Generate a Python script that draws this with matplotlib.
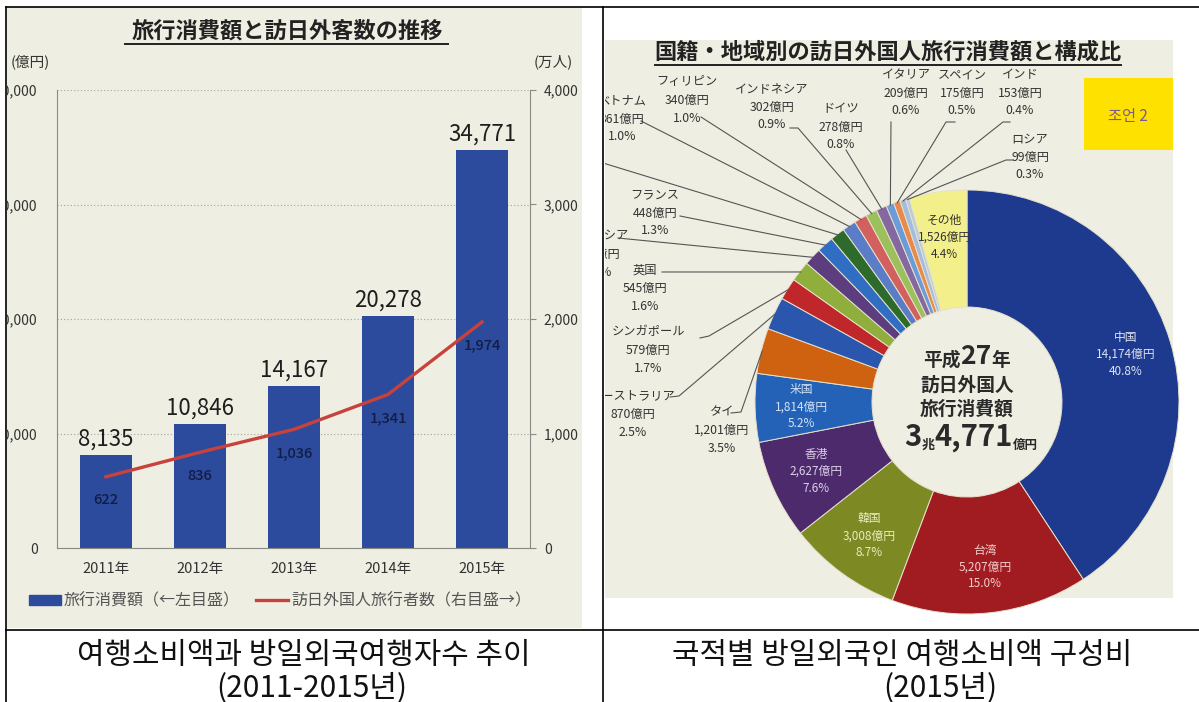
import matplotlib
matplotlib.use("Agg")
import matplotlib.pyplot as plt
from matplotlib.patches import Rectangle, Patch
from matplotlib.lines import Line2D
import numpy as np

plt.rcParams['font.family'] = ['Noto Sans CJK JP', 'DejaVu Sans']

W, H = 1199, 702

# === 左: 旅行消費額と訪日外客数の推移 ===
years = ['2011年', '2012年', '2013年', '2014年', '2015年']
spend = [8135, 10846, 14167, 20278, 34771]      # 億円
visitors = [622, 836, 1036, 1341, 1974]         # 万人
left_ticks = [0, 10000, 20000, 30000, 40000]
right_ticks = [0, 1000, 2000, 3000, 4000]

# === 右: 国籍・地域別の訪日外国人旅行消費額 (2015) ===
countries = ['中国', '台湾', '韓国', '香港', '米国', 'タイ', 'オーストラリア',
             'シンガポール', '英国', 'マレーシア', 'フランス', 'カナダ', 'ベトナム',
             'フィリピン', 'インドネシア', 'ドイツ', 'イタリア', 'スペイン', 'インド',
             'ロシア', 'その他']
amounts = [14174, 5207, 3008, 2627, 1814, 1201, 870, 579, 545, 466, 448, 389,
           361, 340, 302, 278, 209, 175, 153, 99, 1526]
shares = [40.8, 15.0, 8.7, 7.6, 5.2, 3.5, 2.5, 1.7, 1.6, 1.3, 1.3, 1.1, 1.0,
          1.0, 0.9, 0.8, 0.6, 0.5, 0.4, 0.3, 4.4]

BAR = '#2c4b9c'
LINE = '#c8423c'
SCAN = '#efeee2'
pie_colors = ['#1d3a8e', '#a01c20', '#7d8a24', '#4d2a6b', '#2462b8', '#cf6210',
              '#2a56ad', '#c0272b', '#8fae3c', '#5c3d7e', '#2f6ec2', '#2e6a2c',
              '#5b7dc7', '#d2605e', '#9bc05c', '#85689f', '#6b9bd9', '#e98a4c',
              '#a2bede', '#bccbdb', '#f3f08c']


def box(l, t, r, b):
    return [l / W, 1 - b / H, (r - l) / W, (b - t) / H]


def fpt(x, y):
    return x / W, 1 - y / H


fig = plt.figure(figsize=(W / 100, H / 100), dpi=100)
fig.patch.set_facecolor('white')

# scanned backgrounds
left_bg = Rectangle(fpt(7, 628), 575 / W, 621 / H, transform=fig.transFigure,
                    facecolor=SCAN, edgecolor='none', zorder=-1)
fig.add_artist(left_bg)
clip_left = Rectangle(fpt(7, 628), 575 / W, 621 / H, transform=fig.transFigure)

# === Gráfica 1: barras + línea ===
ax1 = fig.add_axes(box(57, 90, 530, 548))
ax1.patch.set_alpha(0)
x = np.arange(len(years))
bars = ax1.bar(x, spend, width=0.56, color=BAR, zorder=2)
ax1.set_xlim(-0.52, 4.51)
ax1.set_ylim(0, 40000)
ax1.set_yticks(left_ticks)
ax1.set_yticklabels([f'{v:,}' for v in left_ticks])
ax1.set_xticks(x)
ax1.set_xticklabels(years)
ax1.grid(axis='y', linestyle=(0, (1, 2)), color='#a5a59c', linewidth=0.8)
ax1.set_axisbelow(True)
for s in ['top', 'right']:
    ax1.spines[s].set_visible(False)
for s in ['left', 'bottom']:
    ax1.spines[s].set_color('#8a8a85')
ax1.tick_params(axis='y', length=0, pad=14, labelsize=10, labelcolor='#333333')
ax1.tick_params(axis='x', length=0, pad=10, labelsize=10.5, labelcolor='#333333')
for lab in ax1.get_yticklabels():
    lab.set_clip_path(clip_left)

ax1.bar_label(bars, labels=[f'{v:,}' for v in spend], padding=3, fontsize=16,
              color='#1e1e1e')

ax2 = ax1.twinx()
ax2.set_ylim(0, 4000)
ax2.plot(x, visitors, color=LINE, linewidth=2.4, zorder=3)
ax2.set_yticks(right_ticks)
ax2.set_yticklabels([f'{v:,}' for v in right_ticks])
for s in ['top', 'left', 'bottom']:
    ax2.spines[s].set_visible(False)
ax2.spines['right'].set_color('#8a8a85')
ax2.tick_params(axis='y', length=4, pad=6, color='#8a8a85', labelsize=10,
                labelcolor='#333333')
for i, v in enumerate(visitors):
    ax2.annotate(f'{v:,}', (i, v), xytext=(0, -17), textcoords='offset points',
                 ha='center', va='center', fontsize=10.5, color='#121c44',
                 weight='medium')

fig.text(*fpt(30, 62), '(億円)', ha='center', va='center', fontsize=10.5,
         color='#333333')
fig.text(*fpt(553, 62), '(万人)', ha='center', va='center', fontsize=10.5,
         color='#333333')
fig.text(*fpt(287, 31), '旅行消費額と訪日外客数の推移', ha='center', va='center',
         fontsize=16, weight='bold', color='#222222')
fig.add_artist(Line2D([125 / W, 448 / W], [1 - 44 / H, 1 - 44 / H],
                      transform=fig.transFigure, color='#222222', lw=1.4))

handles = [Patch(color=BAR), Line2D([], [], color=LINE, lw=2.4)]
fig.legend(handles, ['旅行消費額（←左目盛）', '訪日外国人旅行者数（右目盛→）'],
           loc='center', bbox_to_anchor=fpt(280, 601), ncol=2, frameon=False,
           fontsize=11.5, handlelength=2.0, handleheight=0.55, handletextpad=0.2,
           columnspacing=1.0, labelcolor='#555555')

# === Gráfica 2: donut ===
CX, CY, R = 967, 702 - 402, 212
ax3 = fig.add_axes(box(605, 40, 1173, 598))
ax3.set_facecolor(SCAN)
wedges, _ = ax3.pie(amounts, colors=pie_colors, startangle=90, counterclock=False,
                    center=(CX, CY), radius=R, frame=True,
                    wedgeprops=dict(width=R - 95, edgecolor='#e6e1cc', linewidth=0.7))
ax3.set_aspect('auto')
ax3.set_xlim(605, 1173)
ax3.set_ylim(702 - 598, 702 - 40)
ax3.set_xticks([])
ax3.set_yticks([])
for s in ax3.spines.values():
    s.set_visible(False)


def mid_point(i, r):
    w = wedges[i]
    a = np.deg2rad((w.theta1 + w.theta2) / 2)
    return CX + r * np.cos(a), CY + r * np.sin(a)


def lab(i):
    return f'{countries[i]}\n{amounts[i]:,}億円\n{shares[i]}%'


# labels inside the ring
inner_colors = {'中国': '#dfe3f0', '台湾': '#f4cccc', '韓国': '#e8ecc0',
                '香港': '#ddd0ea', '米国': '#d2e2f6', 'その他': '#333333'}
for name, col in inner_colors.items():
    i = countries.index(name)
    px, py = mid_point(i, 166)
    ax3.text(px, py, lab(i), ha='center', va='center', fontsize=8.5, color=col,
             linespacing=1.4)

# outside labels: (text x, text y in pixels, leader start points in pixels)
outside = {
    'タイ': (722, 430, [(731, 413), (741, 412)]),
    'オーストラリア': (633, 414, [(670, 397), (679, 396)]),
    'シンガポール': (648, 350, [(700, 338), (709, 336)]),
    '英国': (645, 288, [(662, 272)]),
    'マレーシア': (598, 254, [(618, 238)]),
    'フランス': (655, 213, [(680, 216)]),
    'カナダ': (560, 150, [(603, 163)]),
    'ベトナム': (622, 119, [(641, 121)]),
    'フィリピン': (687, 100, [(701, 117)]),
    'インドネシア': (772, 107, [(790, 128), (798, 128)]),
    'ドイツ': (841, 127, [(846, 150)]),
    'イタリア': (906, 93, [(891, 122)]),
    'スペイン': (962, 93, [(955, 122), (946, 122)]),
    'インド': (1020, 93, [(1010, 122), (1003, 122)]),
    'ロシア': (1030, 157, [(1013, 160), (1006, 160)]),
}
for name, (tx, ty, pts) in outside.items():
    i = countries.index(name)
    ex, ey = mid_point(i, R - 1)
    xs = [p[0] for p in pts] + [ex]
    ys = [702 - p[1] for p in pts] + [ey]
    ax3.plot(xs, ys, color='#555555', lw=0.8, zorder=1)
    ax3.text(tx, 702 - ty, lab(i), ha='center', va='center', fontsize=8.8,
             color='#333333', linespacing=1.5, clip_on=True)


def chain(parts, x0, y0, **kw):
    prev = None
    for s, size in parts:
        if prev is None:
            prev = ax3.text(x0, y0, s, ha='left', va='bottom', fontsize=size, **kw)
        else:
            prev = ax3.annotate(s, xy=(1, 0), xycoords=prev, ha='left', va='bottom',
                                fontsize=size, **kw)


chain([('平成', 13.5), ('27', 19), ('年', 13.5)], 923, 702 - 370,
      color='#2a2a2a', weight='bold')
ax3.text(CX, 702 - 385, '訪日外国人', ha='center', va='center', fontsize=13.5,
         color='#2a2a2a', weight='bold')
ax3.text(CX, 702 - 409, '旅行消費額', ha='center', va='center', fontsize=13.5,
         color='#2a2a2a', weight='bold')
chain([('3', 21), ('兆', 9.5), ('4,771', 21), ('億円', 9)], 904, 702 - 452,
      color='#2a2a2a', weight='bold')

ax3.text(CX + 313, 702 - 578, '1', ha='center', va='center', fontsize=15,
         weight='bold', color='#222222', clip_on=True)
ax3.add_patch(Rectangle((1084, 702 - 150), 89, 72, facecolor='#ffe100',
                        edgecolor='none', zorder=4))
ax3.text(1128, 702 - 116, '조언 2', ha='center', va='center', fontsize=11,
         color='#7a5a8a', family=['Noto Sans CJK KR'], zorder=5)

fig.text(*fpt(888, 52), '国籍・地域別の訪日外国人旅行消費額と構成比', ha='center',
         va='center', fontsize=16, weight='bold', color='#222222')
fig.add_artist(Line2D([655 / W, 1121 / W], [1 - 65 / H, 1 - 65 / H],
                      transform=fig.transFigure, color='#222222', lw=1.4))

# === tabla y títulos coreanos ===
for (x1, y1), (x2, y2) in [((6, 7), (1199, 7)), ((6, 7), (6, 702)),
                           ((603, 7), (603, 702)), ((6, 630), (1199, 630))]:
    fig.add_artist(Line2D([x1 / W, x2 / W], [1 - y1 / H, 1 - y2 / H],
                          transform=fig.transFigure, color='black', lw=1.2, zorder=6))

kr = dict(ha='center', va='center', fontsize=21.5, color='#111111', weight='light',
          family=['Noto Sans CJK KR', 'DejaVu Sans'])
fig.text(*fpt(304, 655), '여행소비액과 방일외국여행자수 추이', **kr)
fig.text(*fpt(312, 688), '(2011-2015년)', **kr)
fig.text(*fpt(902, 655), '국적별 방일외국인 여행소비액 구성비', **kr)
fig.text(*fpt(940, 688), '(2015년)', **kr)

fig.savefig('out.png', dpi=100)
